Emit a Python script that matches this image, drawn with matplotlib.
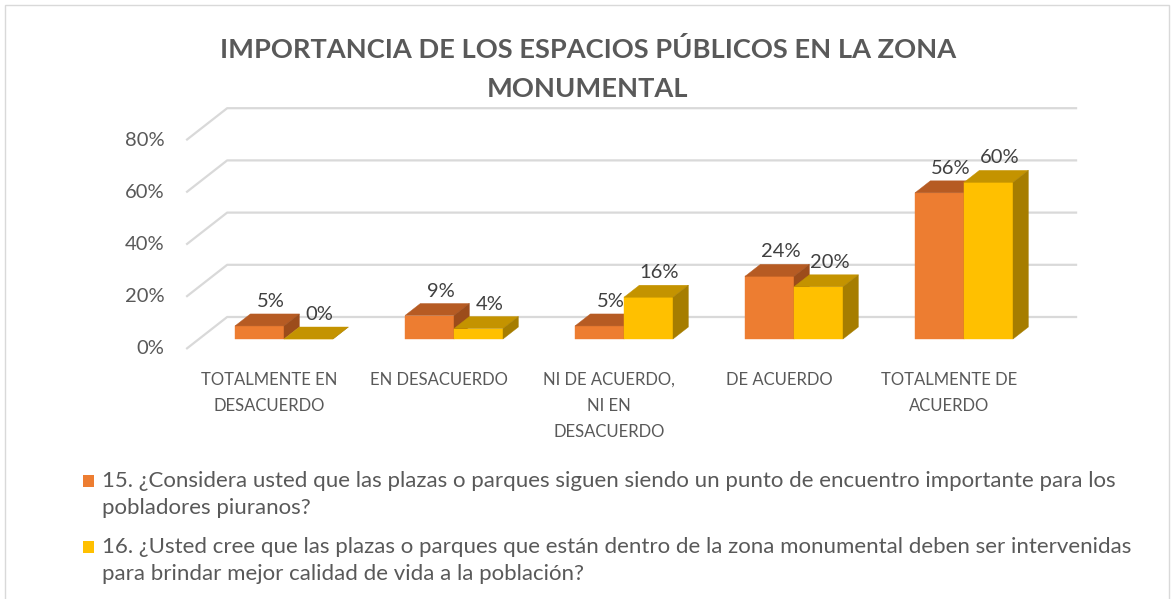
import matplotlib.pyplot as plt
from matplotlib.patches import Polygon, Rectangle

plt.rcParams['font.family'] = ['Lato', 'DejaVu Sans']

title = "IMPORTANCIA DE LOS ESPACIOS PÚBLICOS EN LA ZONA\nMONUMENTAL"
categories = ["TOTALMENTE EN\nDESACUERDO", "EN DESACUERDO", "NI DE ACUERDO,\nNI EN\nDESACUERDO",
              "DE ACUERDO", "TOTALMENTE DE\nACUERDO"]
q15 = [5, 9, 5, 24, 56]
q16 = [0, 4, 16, 20, 60]
yticks = [0, 20, 40, 60, 80]
series_labels = [
    "15. ¿Considera usted que las plazas o parques siguen siendo un punto de encuentro importante para los\npobladores piuranos?",
    "16. ¿Usted cree que las plazas o parques que están dentro de la zona monumental deben ser intervenidas\npara brindar mejor calidad de vida a la población?",
]

# front / top / side shades for each series
orange = ("#ED7D31", "#B65B23", "#9C4C1B")
yellow = ("#FFC000", "#C49300", "#A67D00")

W, H = 1174, 599
PX_X, PX_Y = 170.0, 2.61     # pixels per category / per percent
X0, Y0 = 284, 339            # pixel position of category 0 / value 0

fig = plt.figure(figsize=(W / 100, H / 100), dpi=100)
ax = fig.add_axes([0, 0, 1, 1])
ax.set_xlim(-X0 / PX_X, (W - X0) / PX_X)
ax.set_ylim(-(H - Y0) / PX_Y, Y0 / PX_Y)
ax.axis('off')


def off(d):
    # oblique depth offset, d in pixels of depth
    return 1.28 * d / PX_X, d / PX_Y


FRONT, BACK, BAR_D = -10, 22, 12
n = len(categories)
xl, xr = -0.5, n - 0.5

# walls / gridlines
fx, fy = off(FRONT)
bx, by = off(BACK)
for v in yticks:
    ax.plot([xl + fx, xl + bx, xr + bx], [v + fy, v + by, v + by],
            color="#D9D9D9", lw=1.6, solid_capstyle='butt', zorder=1)
    ax.text(xl + fx - 22 / PX_X, v + fy, f"{v}%", ha='right', va='center',
            fontsize=14.5, color="#595959")


def bar3d(x, w, h, shades):
    dx, dy = off(BAR_D)
    front = [(x, 0), (x + w, 0), (x + w, h), (x, h)]
    top = [(x, h), (x + w, h), (x + w + dx, h + dy), (x + dx, h + dy)]
    side = [(x + w, 0), (x + w + dx, dy), (x + w + dx, h + dy), (x + w, h)]
    for pts, c in zip((front, top, side), shades):
        ax.add_patch(Polygon(pts, closed=True, facecolor=c, edgecolor=c, lw=0.3, zorder=3))


bw = 49 / PX_X
dx, dy = off(BAR_D)
for i in range(n):
    for j, (vals, shades) in enumerate(((q15, orange), (q16, yellow))):
        x = i - bw + j * bw
        h = vals[i]
        bar3d(x, bw, h, shades)
        ax.text(x + bw / 2 + 11 / PX_X, h + dy + 1.5, f"{h}%", ha='center', va='bottom',
                fontsize=14.5, color="#404040", zorder=4)
    ax.text(i + fx - 2 / PX_X, -12.5, categories[i], ha='center', va='top',
            fontsize=12, color="#595959", linespacing=1.8)

fig.text(588 / W, 1 - 37 / H, title, ha='center', va='top', fontsize=19.6,
         fontweight='bold', color="#595959", linespacing=1.75)

# legend
for k, (lab, shades) in enumerate(zip(series_labels, (orange, yellow))):
    ytop = 471 + k * 66
    fig.patches.append(Rectangle((83 / W, 1 - (ytop + 16) / H), 11 / W, 12 / H,
                                 transform=fig.transFigure, facecolor=shades[0],
                                 edgecolor='none'))
    fig.text(102 / W, 1 - ytop / H, lab, ha='left', va='top', fontsize=16,
             color="#595959", linespacing=1.45)

fig.patches.append(Rectangle((5 / W, -0.1), 1164 / W, 1.1 - 5 / H, transform=fig.transFigure,
                             facecolor='none', edgecolor="#D9D9D9", lw=1))

fig.savefig("out.png", dpi=100)
